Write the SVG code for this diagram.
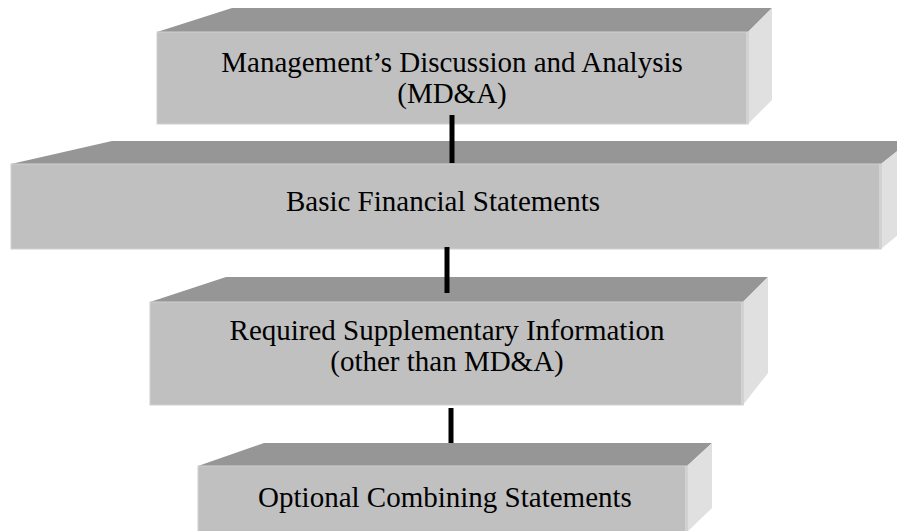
<svg xmlns="http://www.w3.org/2000/svg" width="897" height="531" viewBox="0 0 897 531">
<style>
.top{fill:#969696}
.front{fill:#c0c0c0;stroke:#d0d0d0;stroke-width:1}
.side{fill:#e0e0e0}
.edge{fill:#d2d2d2}
.lbl{font-family:"Liberation Serif","Times New Roman",serif;font-size:29px;fill:#000;text-anchor:middle}
.conn{stroke:#000;stroke-width:5;fill:none}
</style>
<rect width="897" height="531" fill="#fff"/>
<g id="node-mda">
<polygon class="top" points="157,32 232,8 772,8 748,32"/>
<polygon class="side" points="748,32 772,8 772,100 748,124"/>
<rect class="front" x="157" y="32" width="591" height="92"/>
<rect class="edge" x="746" y="32" width="3" height="92"/>
<text class="lbl" x="452" y="72">Management’s Discussion and Analysis</text>
<text class="lbl" x="452" y="103">(MD&amp;A)</text>
</g>
<g id="node-bfs">
<polygon class="top" points="11,164 112,141 910,141 881,164"/>
<polygon class="side" points="881,164 910,141 910,225 881,249"/>
<rect class="front" x="11" y="164" width="870" height="85"/>
<rect class="edge" x="879" y="164" width="3" height="85"/>
<text class="lbl" x="443" y="211">Basic Financial Statements</text>
</g>
<g id="node-rsi">
<polygon class="top" points="150,302 226,277 768,277 743,302"/>
<polygon class="side" points="743,302 768,277 768,373 743,405"/>
<rect class="front" x="150" y="302" width="593" height="103"/>
<rect class="edge" x="741" y="302" width="3" height="103"/>
<text class="lbl" x="447" y="340">Required Supplementary Information</text>
<text class="lbl" x="447" y="371">(other than MD&amp;A)</text>
</g>
<g id="node-ocs">
<polygon class="top" points="198,466 264,443 712,443 687,466"/>
<polygon class="side" points="687,466 712,443 712,508 687,532"/>
<rect class="front" x="198" y="466" width="489" height="70"/>
<rect class="edge" x="685" y="466" width="3" height="70"/>
<text class="lbl" x="445" y="507">Optional Combining Statements</text>
</g>
<g id="connectors">
<line class="conn" x1="452" y1="115" x2="452" y2="163"/>
<line class="conn" x1="447" y1="247" x2="447" y2="293"/>
<line class="conn" x1="451" y1="408" x2="451" y2="443"/>
</g>
</svg>
